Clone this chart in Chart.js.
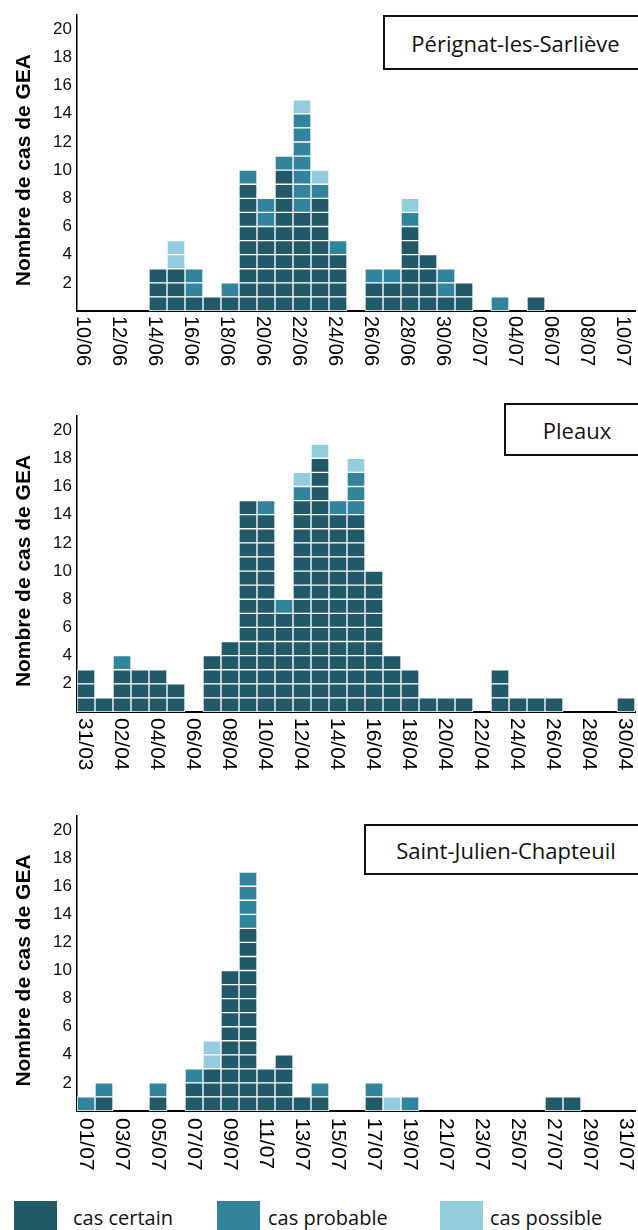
<!DOCTYPE html>
<html>
<head>
<meta charset="utf-8">
<script src="https://cdn.jsdelivr.net/npm/chart.js@4.4.1/dist/chart.umd.min.js"></script>
<style>
  html, body { margin: 0; padding: 0; background: #fff; }
  #wrap { position: relative; width: 638px; height: 1230px; overflow: hidden; background: #fff; }
  canvas { position: absolute; left: 0; }
  .box { position: absolute; border: 2px solid #111; background: #fff; font-family: "Open Sans", sans-serif; font-size: 22px; color: #111; display: flex; align-items: center; justify-content: center; box-sizing: border-box; }
  .sw { position: absolute; width: 43px; height: 30px; }
  .lt { position: absolute; font-family: "Open Sans", sans-serif; font-size: 20px; color: #111; line-height: 24px; }
</style>
</head>
<body>
<div id="wrap">
  <canvas id="cA" width="638" height="400" style="top:0px;width:638px;height:400px"></canvas>
  <canvas id="cB" width="638" height="400" style="top:400px;width:638px;height:400px"></canvas>
  <canvas id="cC" width="638" height="390" style="top:800px;width:638px;height:390px"></canvas>
  <div class="box" style="left:383px;top:15px;width:265px;height:55px;">Pérignat-les-Sarliève</div>
  <div class="box" style="left:504px;top:403px;width:146px;height:53px;">Pleaux</div>
  <div class="box" style="left:364px;top:824px;width:284px;height:51px;">Saint-Julien-Chapteuil</div>
  <div class="sw" style="left:14px;top:1201px;background:#215968"></div>
  <div class="lt" style="left:73px;top:1206px;">cas certain</div>
  <div class="sw" style="left:217px;top:1201px;background:#31849B"></div>
  <div class="lt" style="left:268px;top:1206px;">cas probable</div>
  <div class="sw" style="left:440px;top:1201px;background:#93CDDD"></div>
  <div class="lt" style="left:490px;top:1206px;">cas possible</div>
</div>
<script>
// ---------- DATA ----------
const datesA = ['10/06','11/06','12/06','13/06','14/06','15/06','16/06','17/06','18/06','19/06','20/06','21/06','22/06','23/06','24/06','25/06','26/06','27/06','28/06','29/06','30/06','01/07','02/07','03/07','04/07','05/07','06/07','07/07','08/07','09/07','10/07'];
const certainA  = [0,0,0,0,3,3,1,1,1,9,6,10,7,8,4,0,2,2,6,4,1,2,0,0,0,1,0,0,0,0,0];
const probableA = [0,0,0,0,0,0,2,0,1,1,2,1,7,1,1,0,1,1,1,0,2,0,0,1,0,0,0,0,0,0,0];
const possibleA = [0,0,0,0,0,2,0,0,0,0,0,0,1,1,0,0,0,0,1,0,0,0,0,0,0,0,0,0,0,0,0];

const datesB = ['31/03','01/04','02/04','03/04','04/04','05/04','06/04','07/04','08/04','09/04','10/04','11/04','12/04','13/04','14/04','15/04','16/04','17/04','18/04','19/04','20/04','21/04','22/04','23/04','24/04','25/04','26/04','27/04','28/04','29/04','30/04'];
const certainB  = [3,1,3,3,3,2,0,4,5,15,14,7,15,18,14,14,10,4,3,1,1,1,0,3,1,1,1,0,0,0,1];
const probableB = [0,0,1,0,0,0,0,0,0,0,1,1,1,0,1,3,0,0,0,0,0,0,0,0,0,0,0,0,0,0,0];
const possibleB = [0,0,0,0,0,0,0,0,0,0,0,0,1,1,0,1,0,0,0,0,0,0,0,0,0,0,0,0,0,0,0];

const datesC = ['01/07','02/07','03/07','04/07','05/07','06/07','07/07','08/07','09/07','10/07','11/07','12/07','13/07','14/07','15/07','16/07','17/07','18/07','19/07','20/07','21/07','22/07','23/07','24/07','25/07','26/07','27/07','28/07','29/07','30/07','31/07'];
const certainC  = [0,1,0,0,1,0,2,3,10,13,3,4,1,1,0,0,1,0,0,0,0,0,0,0,0,0,1,1,0,0,0];
const probableC = [1,1,0,0,1,0,1,0,0,4,0,0,0,1,0,0,1,0,1,0,0,0,0,0,0,0,0,0,0,0,0];
const possibleC = [0,0,0,0,0,0,0,2,0,0,0,0,0,0,0,0,0,1,0,0,0,0,0,0,0,0,0,0,0,0,0];

const yTicks = [2,4,6,8,10,12,14,16,18,20];
const yTitle = 'Nombre de cas de GEA';
const seriesNames = ['cas certain','cas probable','cas possible'];
const seriesColors = ['#215968','#31849B','#93CDDD'];

// ---------- CHART ----------
function cellDatasets(seriesList) {
  const ds = [];
  seriesList.forEach((arr, s) => {
    const mx = Math.max(...arr);
    for (let k = 1; k <= mx; k++) {
      ds.push({
        label: seriesNames[s],
        data: arr.map(v => v >= k ? 1 : null),
        backgroundColor: seriesColors[s],
        borderColor: '#ffffff',
        borderWidth: 1,
        borderSkipped: false,
        stack: 's',
        barPercentage: 1,
        categoryPercentage: 1
      });
    }
  });
  return ds;
}

function makeChart(id, labels, c, p, q, o) {
  const labelPlugin = {
    id: 'rotLabels',
    afterDraw(chart) {
      const ctx = chart.ctx;
      const xs = chart.scales.x;
      const ys = chart.scales.y;
      ctx.save();
      ctx.fillStyle = '#000';
      ctx.font = o.xFont + 'px "Liberation Sans", Arial, sans-serif';
      ctx.textAlign = 'left';
      ctx.textBaseline = 'middle';
      labels.forEach((lab, i) => {
        if (i % 2 !== 0) return;
        const x = xs.getPixelForValue(i) + o.dx;
        ctx.save();
        ctx.translate(x, xs.top + o.pad);
        ctx.rotate(Math.PI / 2);
        ctx.fillText(lab, 0, 0);
        ctx.restore();
      });
      // y axis title
      ctx.font = 'bold 21px "Liberation Sans", Arial, sans-serif';
      ctx.textAlign = 'center';
      ctx.textBaseline = 'middle';
      ctx.save();
      ctx.translate(24, (ys.top + ys.bottom) / 2 + 7);
      ctx.rotate(-Math.PI / 2);
      ctx.fillText(yTitle, 0, 0);
      ctx.restore();
      ctx.restore();
    }
  };
  return new Chart(document.getElementById(id), {
    type: 'bar',
    data: { labels: labels, datasets: cellDatasets([c, p, q]) },
    options: {
      responsive: false,
      devicePixelRatio: 1,
      animation: false,
      layout: { padding: { top: o.top, right: 3, left: 0, bottom: 0 } },
      plugins: { legend: { display: false }, tooltip: { enabled: false } },
      scales: {
        x: {
          stacked: true,
          offset: true,
          grid: { display: false, drawTicks: false },
          border: { display: true, color: '#000', width: 2 },
          ticks: { display: false },
          afterFit(scale) { scale.height = o.xh; }
        },
        y: {
          stacked: true,
          min: 0, max: 21,
          grid: { display: false, drawTicks: false },
          border: { display: true, color: '#000', width: 1.5 },
          afterBuildTicks(scale) { scale.ticks = yTicks.map(v => ({ value: v })); },
          ticks: {
            color: '#111',
            padding: 5,
            font: { family: '"Liberation Sans", Arial, sans-serif', size: 17 }
          },
          afterFit(scale) { scale.width = 77; }
        }
      }
    },
    plugins: [labelPlugin]
  });
}

makeChart('cA', datesA, certainA, probableA, possibleA, { top: 15, xh: 89, xFont: 20, dx: -3, pad: 5 });
makeChart('cB', datesB, certainB, probableB, possibleB, { top: 16, xh: 88, xFont: 21, dx: -1, pad: 6 });
makeChart('cC', datesC, certainC, probableC, possibleC, { top: 16, xh: 79, xFont: 21, dx: 0, pad: 7 });
</script>
</body>
</html>
